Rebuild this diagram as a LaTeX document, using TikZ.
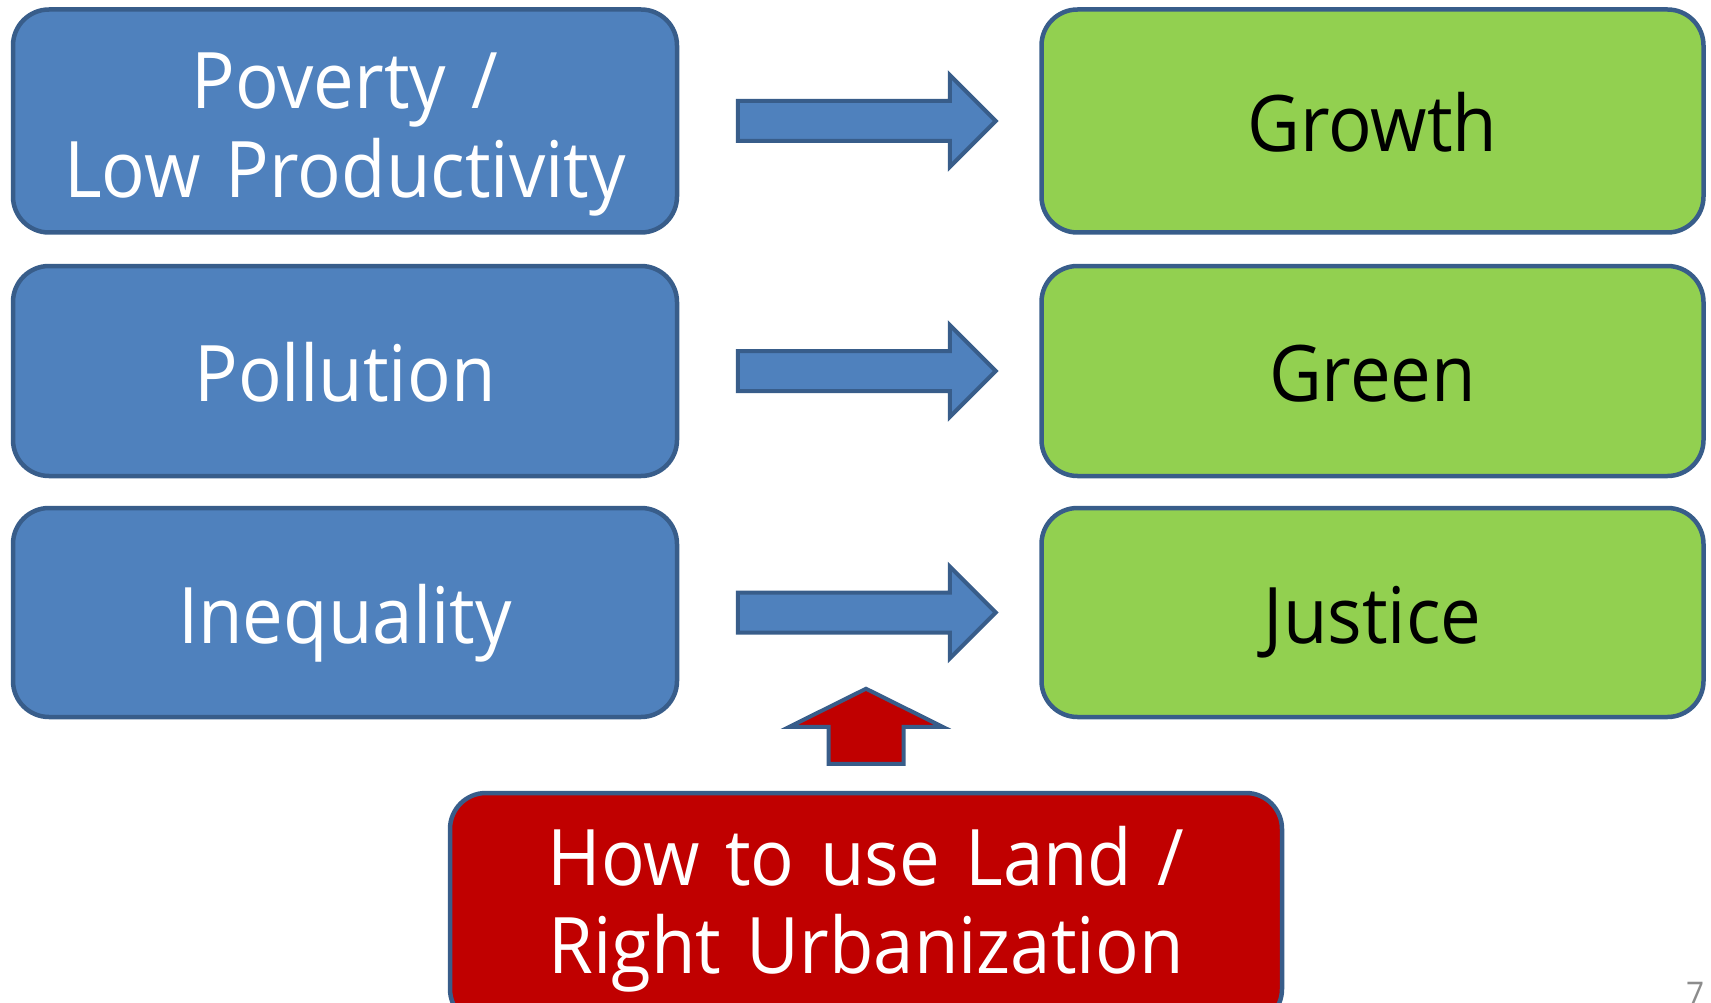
\documentclass[tikz,border=0pt]{standalone}
\usepackage{fontspec}
\setmainfont{Open Sans}[FakeStretch=0.93, WordSpace=1.35]
\usetikzlibrary{calc}
\definecolor{causefill}{HTML}{4F81BD}
\definecolor{goalfill}{HTML}{92D050}
\definecolor{landfill}{HTML}{C00000}
\definecolor{edgeblue}{HTML}{385D8A}
\definecolor{pagegray}{HTML}{8C8C8C}
\begin{document}
\begin{tikzpicture}[x=1pt,y=-1pt,
  box/.style={rounded corners=36pt, line width=4.5pt, draw=edgeblue,
    align=center, inner sep=0pt, font=\fontsize{78}{88.5}\selectfont},
  oneline/.style={text height=61pt, text depth=0pt},
  causebox/.style={box, fill=causefill, text=white, minimum width=664pt},
  goalbox/.style={box, fill=goalfill, text=black, minimum width=662pt},
  landbox/.style={box, fill=landfill, text=white, minimum width=832pt, minimum height=232pt},
  flow/.style={draw=edgeblue, line width=4pt, fill=causefill, line join=miter},
  lever/.style={draw=edgeblue, line width=4pt, fill=landfill, line join=miter}]
\useasboundingbox (0,0) rectangle (1711,1003);
\clip (0,0) rectangle (1711,1003);

% problems (left column)
\node[causebox, minimum height=223pt] (pov) at (345,121)
  {\rule{0pt}{83pt}Poverty /\\Low Productivity};
\node[causebox, oneline, minimum height=210pt] (pol) at (345,371) {Pollution};
\node[causebox, oneline, minimum height=209pt] (ineq) at (345,612.5) {Inequality};

% goals (right column)
\node[goalbox, oneline, minimum height=223pt] (grow) at (1372.5,121) {Growth};
\node[goalbox, oneline, minimum height=210pt] (green) at (1372.5,371) {Green};
\node[goalbox, oneline, minimum height=209pt] (just) at (1372.5,612.5) {Justice};

% the lever at the bottom
\node[landbox] (land) at (866,909) {How to use Land /\\Right Urbanization};

% block arrows from each problem to its goal
\foreach \src in {pov,pol,ineq}{
  \draw[flow] ($(\src.east)+(58.5,-20)$) -- ++(212,0) -- ++(0,-26) -- ++(46,46)
    -- ++(-46,46) -- ++(0,-26) -- ++(-212,0) -- cycle;
}

% upward arrow from the lever
\draw[lever] ($(land.north)+(-37.5,-27)$) -- ++(0,-37) -- ++(-39,0) -- ++(76.5,-38)
  -- ++(76.5,38) -- ++(-39,0) -- ++(0,37) -- cycle;

% slide number
\node[anchor=base west, inner sep=0pt, text=pagegray, font=\fontsize{34}{40}\selectfont] (pg) at (1686,1006) {7};
\end{tikzpicture}
\end{document}
